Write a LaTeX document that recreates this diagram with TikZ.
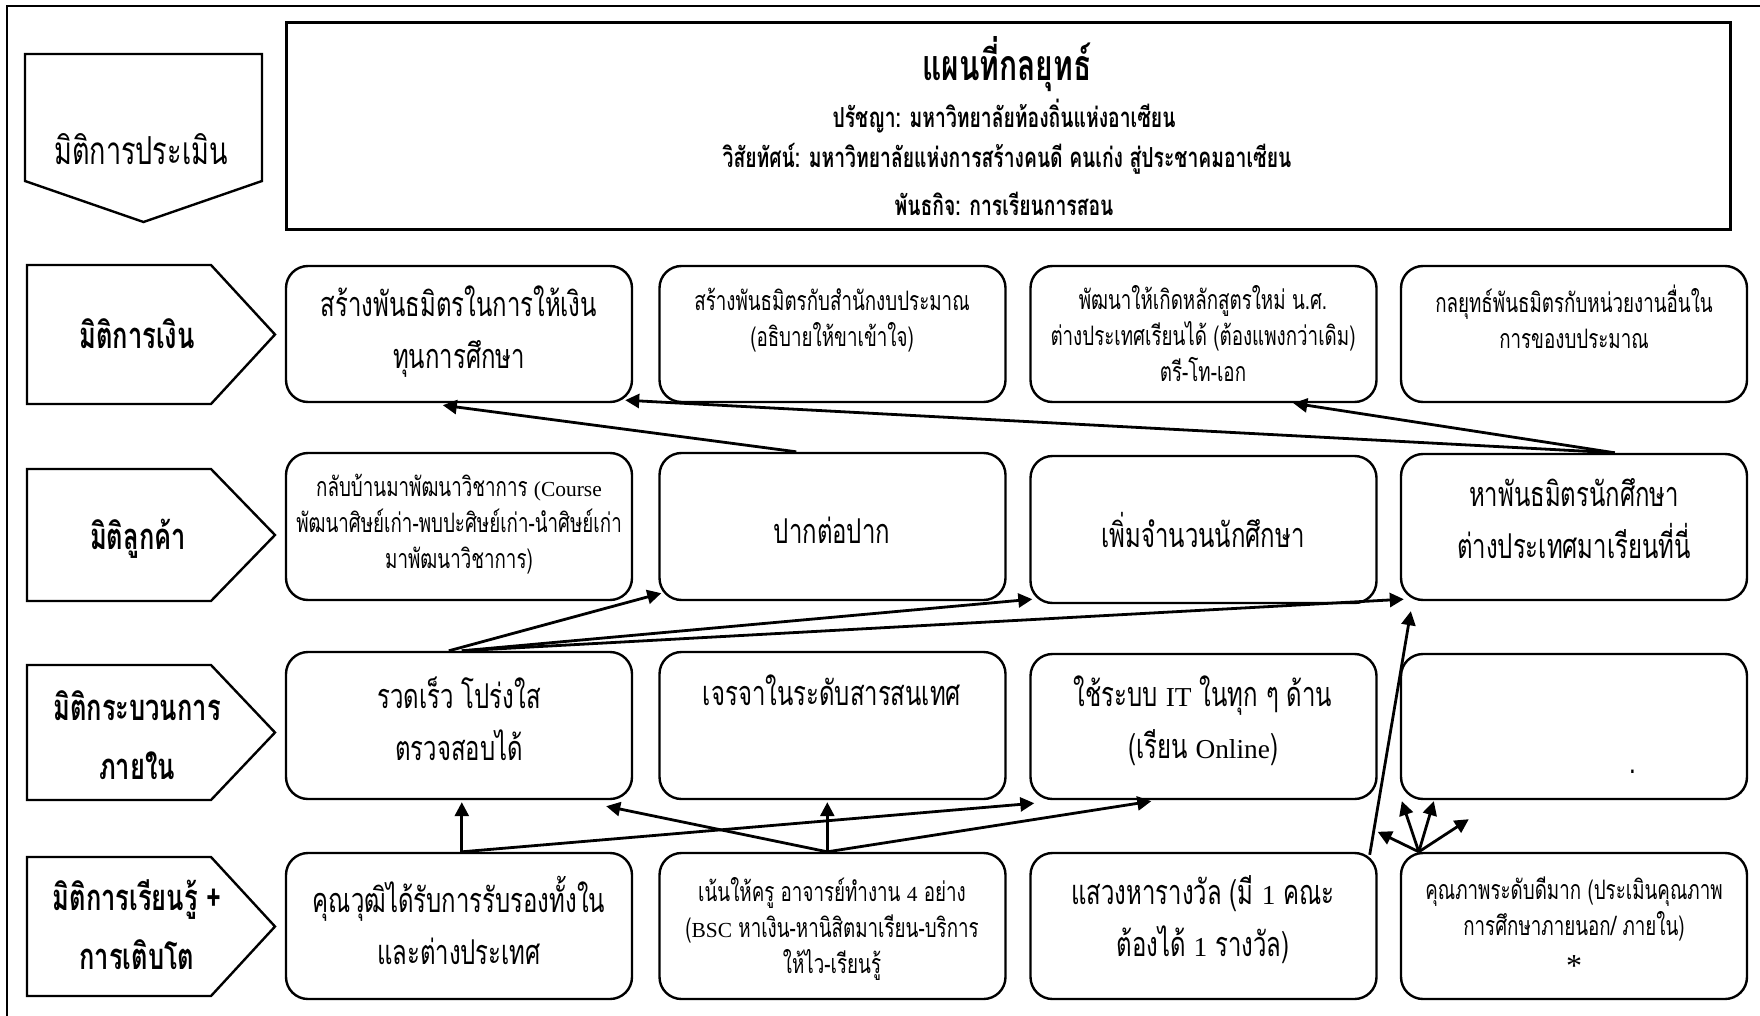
\documentclass[tikz,border=0pt]{standalone}
\usepackage{fontspec}
\usetikzlibrary{arrows.meta,calc}
\newfontfamily\thaifont[Script=Thai,FakeStretch=0.7]{Loma}
\newfontfamily\latfont[Scale=0.8]{Liberation Serif}
\newcommand\lat[1]{{\latfont #1}}

\tikzset{
  box/.style={draw, line width=1.2pt, rounded corners=11pt, minimum width=173pt, inner sep=0pt},
  tag/.style={draw, line width=1.2pt, line join=miter},
  big/.style={font=\thaifont\fontsize{17.1}{26}\selectfont, align=center, inner sep=0pt},
  small/.style={font=\thaifont\fontsize{13.4}{18}\selectfont, align=center, inner sep=0pt},
  dim/.style={font=\thaifont\bfseries\fontsize{18.2}{29.5}\selectfont, align=center, inner sep=0pt},
  headline/.style={font=\thaifont\bfseries\fontsize{13.8}{15}\selectfont, inner sep=0pt},
  link/.style={line width=1.4pt, -{Triangle[length=7pt,width=7pt]}},
}

\begin{document}
\begin{tikzpicture}[x=0.5pt, y=-0.5pt]
\useasboundingbox (0,0) rectangle (1760,1016);

% outer frame
\draw[line width=1pt] (7,1016) -- (7,6) -- (1760,6);

% evaluation tag and header
\draw[tag] (25,54) -- (262,54) -- (262,181) -- (143.5,222) -- (25,181) -- cycle;
\node[font=\thaifont\fontsize{19.3}{21}\selectfont, inner sep=0pt] (eval) at (141,149) {มิติการประเมิน};

\node[draw, line width=1.5pt, minimum width=722pt, minimum height=103.5pt, inner sep=0pt] (head) at (1008,126.5) {};
\node[font=\thaifont\bfseries\fontsize{21.4}{23}\selectfont, inner sep=0pt] (title) at (1007,64) {แผนที่กลยุทธ์};
\node[headline] (phil) at (1004,116) {ปรัชญา: มหาวิทยาลัยท้องถิ่นแห่งอาเซียน};
\node[headline] (vis) at (1007,159) {วิสัยทัศน์: มหาวิทยาลัยแห่งการสร้างคนดี คนเก่ง สู่ประชาคมอาเซียน};
\node[headline] (miss) at (1004,204) {พันธกิจ: การเรียนการสอน};

% row tags
\draw[tag] (27,265) -- (211,265) -- (275,334.5) -- (211,404) -- (27,404) -- cycle;
\draw[tag] (27,469) -- (211,469) -- (275,535) -- (211,601) -- (27,601) -- cycle;
\draw[tag] (27,665) -- (211,665) -- (275,732.5) -- (211,800) -- (27,800) -- cycle;
\draw[tag] (27,857) -- (211,857) -- (275,926.5) -- (211,996) -- (27,996) -- cycle;
\node[dim] (l1) at (137,334) {มิติการเงิน};
\node[dim] (l2) at (138,539) {มิติลูกค้า};
\node[dim] (l3) at (137,735) {มิติกระบวนการ\\ภายใน};
\node[dim] (l4) at (137,925) {มิติการเรียนรู้ +\\การเติบโต};

% boxes
\node[box, minimum height=68pt] (b11) at (459,334) {};
\node[box, minimum height=68pt] (b12) at (832.5,334) {};
\node[box, minimum height=68pt] (b13) at (1203.5,334) {};
\node[box, minimum height=68pt] (b14) at (1574,334) {};

\node[box, minimum height=73.5pt] (b21) at (459,526.5) {};
\node[box, minimum height=73.5pt] (b22) at (832.5,526.5) {};
\node[box, minimum height=73.5pt] (b23) at (1203.5,529.5) {};
\node[box, minimum height=73pt] (b24) at (1574,527) {};

\node[box, minimum height=73.5pt] (b31) at (459,725.5) {};
\node[box, minimum height=73.5pt] (b32) at (832.5,725.5) {};
\node[box, minimum height=72.5pt] (b33) at (1203.5,726.5) {};
\node[box, minimum height=72.5pt] (b34) at (1574,726.5) {};

\node[box, minimum height=73pt] (b41) at (459,926) {};
\node[box, minimum height=73pt] (b42) at (832.5,926) {};
\node[box, minimum height=73pt] (b43) at (1203.5,926) {};
\node[box, minimum height=73pt] (b44) at (1574,926) {};

% box texts
\node[big] (t11) at (459,332) {สร้างพันธมิตรในการให้เงิน\\ทุนการศึกษา};
\node[small] (t12) at (832,320) {สร้างพันธมิตรกับสำนักงบประมาณ\\(อธิบายให้ขาเข้าใจ)};
\node[small] (t13) at (1203,334) {พัฒนาให้เกิดหลักสูตรใหม่ น.ศ.\\ต่างประเทศเรียนได้ (ต้องแพงกว่าเดิม)\\ตรี-โท-เอก};
\node[small] (t14) at (1574,317) {กลยุทธ์พันธมิตรกับหน่วยงานอื่นใน\\การของบประมาณ};

\node[small] (t21) at (459,524) {กลับบ้านมาพัฒนาวิชาการ \lat{(Course}\\พัฒนาศิษย์เก่า-พบปะศิษย์เก่า-นำศิษย์เก่า\\มาพัฒนาวิชาการ)};
\node[big] (t22) at (832,530) {ปากต่อปาก};
\node[big] (t23) at (1203,530) {เพิ่มจำนวนนักศึกษา};
\node[big] (t24) at (1574,519) {หาพันธมิตรนักศึกษา\\ต่างประเทศมาเรียนที่นี่};

\node[big] (t31) at (459,719) {รวดเร็ว โปร่งใส\\ตรวจสอบได้};
\node[big] (t32) at (832,690) {เจรจาในระดับสารสนเทศ};
\node[big] (t33) at (1203,721) {ใช้ระบบ \lat{IT} ในทุก ๆ ด้าน\\(เรียน \lat{Online})};
\node[big] (t34) at (1633,772) {.};

\node[big] (t41) at (459,920) {คุณวุฒิได้รับการรับรองทั้งใน\\และต่างประเทศ};
\node[small] (t42) at (832,929) {เน้นให้ครู อาจารย์ทำงาน \lat{4} อย่าง\\(\lat{BSC} หาเงิน-หานิสิตมาเรียน-บริการ\\ให้ไว-เรียนรู้};
\node[big] (t43) at (1203,920) {แสวงหารางวัล (มี \lat{1} คณะ\\ต้องได้ \lat{1} รางวัล)};
\node[small] (t44) at (1574,909) {คุณภาพระดับดีมาก (ประเมินคุณภาพ\\การศึกษาภายนอก/ ภายใน)};
\node[font=\latfont\fontsize{20}{20}\selectfont, inner sep=0pt] (t44s) at (1574,966) {*};

% connector end points
\coordinate (s22) at ($(b22.north west)+(138,0)$);
\coordinate (s24) at ($(b24.north west)+(215,0)$);
\coordinate (s31a) at ($(b31.north west)+(164,0)$);
\coordinate (s31b) at ($(b31.north west)+(177,0)$);
\coordinate (s41) at ($(b41.north west)+(177,0)$);
\coordinate (s42) at ($(b42.north west)+(169,0)$);
\coordinate (s43) at ($(b43.north east)+(-8,3)$);
\coordinate (s44) at ($(b44.north west)+(19,0)$);

% financial links
\draw[link] (s22) -- ($(b11.south west)+(158,2)$);
\draw[link] (s24) -- ($(b11.south east)+(-8,-3)$);
\draw[link] (s24) -- ($(b13.south west)+(264,0)$);

% customer links
\draw[link] (s31a) -- ($(b22.south west)+(3,-8)$);
\draw[link] (s31b) -- ($(b23.south west)+(3,-5)$);
\draw[link] (s31b) -- ($(b24.south west)+(4,-2)$);
\draw[link] (s43) -- ($(b24.south west)+(11,10)$);

% internal process links
\draw[link] (s42) -- ($(b31.south east)+(-27,6)$);
\draw[link] (s42) -- ($(b32.south west)+(169,2)$);
\draw[link] (s42) -- ($(b33.south west)+(122,1)$);
\draw[link] (s41) -- ($(b31.south west)+(177,2)$);
\draw[link] (s41) -- ($(b33.south west)+(5,3)$);

% quality fan
\draw[link] (s44) -- ($(b43.north east)+(0,-20)$);
\draw[link] (s44) -- ($(b34.south west)+(2,1)$);
\draw[link] (s44) -- ($(b34.south west)+(34,1)$);
\draw[link] (s44) -- ($(b34.south west)+(69,19)$);
\end{tikzpicture}
\end{document}
